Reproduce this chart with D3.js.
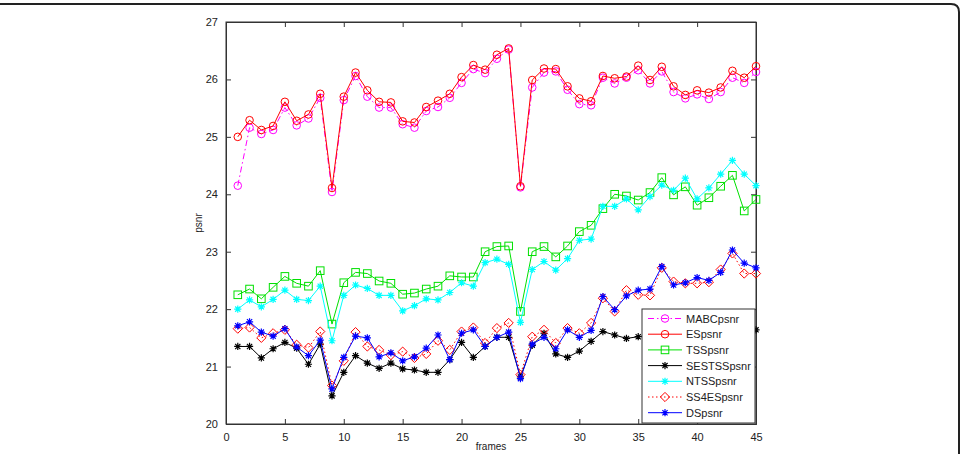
<!DOCTYPE html>
<html><head><meta charset="utf-8">
<script src="https://cdn.jsdelivr.net/npm/d3@7"></script>
<style>body{margin:0;background:#fff;}svg{display:block;font-family:"Liberation Sans",Arial,sans-serif;}</style>
</head><body>
<svg id="chart" width="963" height="454"></svg>
<script>
const frames = d3.range(1, 46);
const MABCpsnr = [24.15,25.16,25.05,25.12,25.51,25.20,25.32,25.68,24.04,25.64,26.06,25.70,25.51,25.51,25.22,25.16,25.45,25.52,25.68,25.94,26.18,26.11,26.36,26.52,24.12,25.86,26.12,26.14,25.82,25.57,25.55,26.03,25.93,26.03,26.16,25.93,26.14,25.78,25.67,25.74,25.66,25.78,26.03,25.94,26.13];
const ESpsnr = [25.00,25.29,25.12,25.19,25.61,25.28,25.39,25.75,24.11,25.70,26.12,25.81,25.61,25.60,25.27,25.25,25.52,25.63,25.75,26.04,26.25,26.17,26.43,26.54,24.14,25.99,26.19,26.18,25.88,25.67,25.62,26.06,26.02,26.05,26.24,25.99,26.22,25.88,25.73,25.81,25.77,25.86,26.15,26.03,26.23];
const TSSpsnr = [22.25,22.35,22.18,22.38,22.57,22.45,22.40,22.67,21.74,22.46,22.64,22.62,22.49,22.45,22.26,22.28,22.35,22.40,22.58,22.56,22.56,23.00,23.09,23.10,21.96,23.00,23.09,22.91,23.10,23.35,23.46,23.75,24.00,23.97,23.90,24.03,24.29,23.99,24.13,23.81,23.94,24.14,24.33,23.71,23.91];
const SESTSSpsnr = [21.35,21.35,21.15,21.31,21.42,21.32,21.04,21.39,20.49,20.90,21.19,21.06,20.97,21.06,20.96,20.94,20.90,20.90,21.12,21.42,21.16,21.35,21.51,21.51,20.82,21.37,21.58,21.22,21.16,21.27,21.44,21.61,21.55,21.49,21.52,21.55,21.60,21.56,21.60,21.58,21.60,21.62,21.60,21.62,21.64];
const NTSSpsnr = [22.00,22.16,22.04,22.17,22.33,22.17,22.15,22.40,21.45,22.24,22.42,22.36,22.24,22.24,21.97,22.06,22.18,22.16,22.29,22.46,22.40,22.81,22.87,22.78,21.77,22.69,22.83,22.68,22.88,23.20,23.22,23.79,23.79,23.92,23.73,23.96,24.16,24.07,24.28,23.92,24.11,24.35,24.59,24.35,24.15];
const SS4ESpsnr = [21.66,21.68,21.50,21.58,21.64,21.38,21.33,21.61,20.67,21.10,21.60,21.35,21.29,21.20,21.26,21.15,21.22,21.45,21.29,21.61,21.68,21.41,21.67,21.76,20.86,21.52,21.64,21.41,21.67,21.58,21.76,22.19,21.96,22.33,22.25,22.24,22.72,22.48,22.45,22.45,22.47,22.69,22.97,22.62,22.62];
const DSpsnr = [21.71,21.78,21.60,21.53,21.66,21.34,21.19,21.46,20.61,21.16,21.53,21.50,21.17,21.24,21.10,21.17,21.32,21.55,21.12,21.58,21.64,21.35,21.51,21.60,20.79,21.39,21.51,21.31,21.64,21.51,21.63,22.22,21.99,22.23,22.33,22.35,22.74,22.42,22.46,22.55,22.50,22.64,23.03,22.80,22.72];
const seriesNames = ["MABCpsnr","ESpsnr","TSSpsnr","SESTSSpsnr","NTSSpsnr","SS4ESpsnr","DSpsnr"];
const xTicks = [0,5,10,15,20,25,30,35,40,45];
const yTicks = [20,21,22,23,24,25,26,27];

const seriesData = [MABCpsnr,ESpsnr,TSSpsnr,SESTSSpsnr,NTSSpsnr,SS4ESpsnr,DSpsnr];
const styles = [
  {color:"#ff00ff", dash:"6,3,1.5,3", marker:"circle"},
  {color:"#ff0000", dash:null, marker:"circle"},
  {color:"#00e000", dash:null, marker:"square"},
  {color:"#000000", dash:null, marker:"star"},
  {color:"#00ffff", dash:null, marker:"star"},
  {color:"#ff0000", dash:"1.5,2.5", marker:"diamond"},
  {color:"#0000ff", dash:null, marker:"star"}
];

const svg = d3.select("#chart");
const L = 226, R = 756, T = 22, B = 424;
const x = d3.scaleLinear().domain([0,45]).range([L,R]);
const y = d3.scaleLinear().domain([20,27]).range([B,T]);

// outer frame
svg.append("path")
  .attr("d", "M0,4 L951,4 Q959,4 959,12 L959,460")
  .attr("fill","none").attr("stroke","#222").attr("stroke-width",2);

// axes box
const axisColor = "#333";
svg.append("rect").attr("x",L).attr("y",T).attr("width",R-L).attr("height",B-T)
  .attr("fill","#fff").attr("stroke",axisColor).attr("stroke-width",1);

const axB = svg.append("g").attr("transform",`translate(0,${B})`)
  .call(d3.axisBottom(x).tickValues(xTicks).tickSize(-5).tickPadding(9).tickFormat(d3.format("d")));
const axL = svg.append("g").attr("transform",`translate(${L},0)`)
  .call(d3.axisLeft(y).tickValues(yTicks).tickSize(-5).tickPadding(8).tickFormat(d3.format("d")));
const axT = svg.append("g").attr("transform",`translate(0,${T})`)
  .call(d3.axisTop(x).tickValues(xTicks).tickSize(-5).tickFormat(""));
const axR = svg.append("g").attr("transform",`translate(${R},0)`)
  .call(d3.axisRight(y).tickValues(yTicks).tickSize(-5).tickFormat(""));
[axB,axL,axT,axR].forEach(a=>{
  a.select(".domain").attr("stroke",axisColor);
  a.selectAll(".tick line").attr("stroke",axisColor);
  a.selectAll(".tick text").attr("fill","#222").style("font-size","11px").style("font-family","'Liberation Sans',Arial,sans-serif");
});

svg.append("text").attr("x",(L+R)/2).attr("y",450).attr("text-anchor","middle")
  .style("font-size","10px").attr("fill","#222").text("frames");
svg.append("text").attr("transform",`translate(202,${(T+B)/2}) rotate(-90)`).attr("text-anchor","middle")
  .style("font-size","10px").attr("fill","#222").text("psnr");

function drawMarker(g, type, cx, cy, color){
  if(type==="circle"){
    g.append("circle").attr("cx",cx).attr("cy",cy).attr("r",3.8).attr("fill","none").attr("stroke",color).attr("stroke-width",1);
  } else if(type==="square"){
    g.append("rect").attr("x",cx-3.8).attr("y",cy-3.8).attr("width",7.6).attr("height",7.6).attr("fill","none").attr("stroke",color).attr("stroke-width",1);
  } else if(type==="diamond"){
    g.append("path").attr("d",`M${cx},${cy-4.6}L${cx+4.6},${cy}L${cx},${cy+4.6}L${cx-4.6},${cy}Z`).attr("fill","none").attr("stroke",color).attr("stroke-width",1);
  } else if(type==="star"){
    const s=3.6, d=2.6;
    g.append("path").attr("d",`M${cx-s},${cy}L${cx+s},${cy}M${cx},${cy-s}L${cx},${cy+s}M${cx-d},${cy-d}L${cx+d},${cy+d}M${cx-d},${cy+d}L${cx+d},${cy-d}`)
      .attr("fill","none").attr("stroke",color).attr("stroke-width",1.2);
  }
}

const line = d3.line().x((d,i)=>x(frames[i])).y(d=>y(d));
const plot = svg.append("g");
seriesData.forEach((vals,k)=>{
  const st = styles[k];
  const g = plot.append("g");
  g.append("path").datum(vals).attr("d",line).attr("fill","none")
    .attr("stroke",st.color).attr("stroke-width",1)
    .attr("stroke-dasharray",st.dash);
  vals.forEach((v,i)=>drawMarker(g, st.marker, x(frames[i]), y(v), st.color));
});

// legend
const lg = svg.append("g");
lg.append("rect").attr("x",642).attr("y",309).attr("width",113).attr("height",114)
  .attr("fill","#fff").attr("stroke","#333").attr("stroke-width",1);
seriesNames.forEach((name,k)=>{
  const st = styles[k];
  const yy = 318.5 + k*15.7;
  lg.append("line").attr("x1",648).attr("x2",682).attr("y1",yy).attr("y2",yy)
    .attr("stroke",st.color).attr("stroke-width",1).attr("stroke-dasharray",st.dash);
  drawMarker(lg, st.marker, 665, yy, st.color);
  lg.append("text").attr("x",686).attr("y",yy+4).style("font-size","11px").attr("fill","#222").text(name);
});
</script>
</body></html>
